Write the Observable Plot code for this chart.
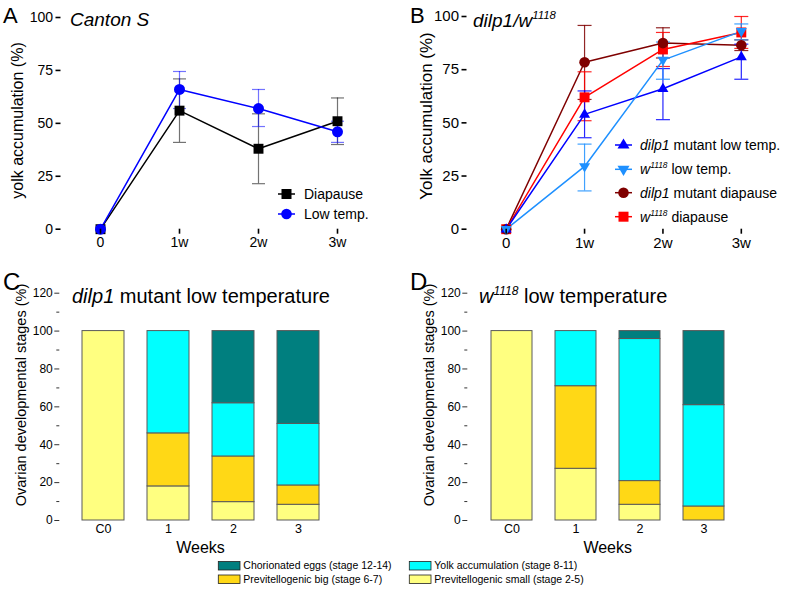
<!DOCTYPE html>
<html><head><meta charset="utf-8">
<script src="https://cdn.jsdelivr.net/npm/d3@7"></script>
<script src="https://cdn.jsdelivr.net/npm/@observablehq/plot@0.6"></script>
<style>
body{margin:0;background:#fff;}
#root{position:relative;width:787px;height:589px;overflow:hidden;background:#fff;font-family:"Liberation Sans",Arial,sans-serif;}
</style></head><body><div id="root"></div>
<script>
// ---------- DATA ----------
const weekIdx = [0, 1, 2, 3];
const weekLabels = ["0", "1w", "2w", "3w"];

// Panel A (Canton S)
const aSeries = ["Diapause", "Low temp."];
const aDiapauseMean = [0, 56, 38, 51];
const aDiapauseLow  = [0, 41, 21.5, 40];
const aDiapauseHigh = [0, 71, 54.5, 62];
const aLowTempMean  = [0, 66, 57, 46];
const aLowTempLow   = [0, 57, 48.5, 41];
const aLowTempHigh  = [0, 74.5, 66, 51];

// Panel B (dilp1 / w1118)
const bSeries = ["dilp1 mutant low temp.", "w1118 low temp.", "dilp1 mutant diapause", "w1118 diapause"];
const bDilpLowMean = [0, 54, 66, 81];
const bDilpLowLow  = [0, 43, 51.5, 70.5];
const bDilpLowHigh = [0, 65, 75.5, 87];
const bWLowMean    = [0, 29.5, 79.5, 93];
const bWLowLow     = [0, 18, 70.5, 89];
const bWLowHigh    = [0, 40, 88, 96.5];
const bDilpDiaMean = [0, 78.5, 87.5, 86.5];
const bDilpDiaLow  = [0, 61, 80.5, 84];
const bDilpDiaHigh = [0, 95.8, 94.7, 89];
const bWDiaMean    = [0, 62, 84.5, 92.5];
const bWDiaLow     = [0, 51, 76.5, 85];
const bWDiaHigh    = [0, 74, 92.5, 100];

// Panels C and D (stacked bars)
const barWeeks = ["C0", "1", "2", "3"];
const stages = ["Previtellogenic small (stage 2-5)", "Previtellogenic big (stage 6-7)", "Yolk accumulation (stage 8-11)", "Chorionated eggs (stage 12-14)"];
const stageColors = ["#ffff80", "#ffd816", "#00ffff", "#007f7f"];
const cSmall = [100, 18, 9.7, 8.3];
const cBig   = [0, 28, 24.1, 10.2];
const cYolk  = [0, 54, 28.1, 32.5];
const cChor  = [0, 0, 38.1, 49];
const dSmall = [100, 27.3, 8.3, 0];
const dBig   = [0, 43.6, 12.5, 7.4];
const dYolk  = [0, 29.1, 75, 53.5];
const dChor  = [0, 0, 4.2, 39.1];

// ---------- HELPERS ----------
const FONT = "Liberation Sans, Arial, sans-serif";
const root = document.getElementById("root");
function place(el, left, top) {
  el.style.position = "absolute"; el.style.left = left + "px"; el.style.top = top + "px";
  root.appendChild(el);
}
const capSymbol = {draw(ctx, size) { const r = Math.sqrt(size / Math.PI); ctx.moveTo(-r, 0); ctx.lineTo(r, 0); }};
const triUp = {draw(ctx, size) { const h = Math.sqrt(size / Math.PI); ctx.moveTo(-h, h * 0.6); ctx.lineTo(h, h * 0.6); ctx.lineTo(0, -h * 1.1); ctx.closePath(); }};
const triDown = {draw(ctx, size) { const h = Math.sqrt(size / Math.PI); ctx.moveTo(-h, -h * 0.6); ctx.lineTo(h, -h * 0.6); ctx.lineTo(0, h * 1.1); ctx.closePath(); }};

function rows(series, mean, lo, hi) {
  return weekIdx.map((w, i) => ({series, week: w, mean: mean[i], lo: lo[i], hi: hi[i]}));
}
function lineMarks(data, color, errOpacity, capR) {
  const err = data.filter(d => d.week > 0);
  return [
    Plot.ruleX(err, {x: "week", y1: "lo", y2: "hi", stroke: color, strokeWidth: 1.2, strokeOpacity: errOpacity}),
    Plot.dot(err, {x: "week", y: "lo", symbol: capSymbol, r: capR, stroke: color, fill: "none", strokeWidth: 1.2, strokeOpacity: errOpacity}),
    Plot.dot(err, {x: "week", y: "hi", symbol: capSymbol, r: capR, stroke: color, fill: "none", strokeWidth: 1.2, strokeOpacity: errOpacity}),
    Plot.line(data, {x: "week", y: "mean", stroke: color, strokeWidth: 1.5})
  ];
}
function dotMark(data, color, symbol, r) {
  return Plot.dot(data, {x: "week", y: "mean", symbol, r, fill: color, stroke: "none"});
}

// ---------- PANEL A ----------
const aDia = rows(aSeries[0], aDiapauseMean, aDiapauseLow, aDiapauseHigh);
const aLow = rows(aSeries[1], aLowTempMean, aLowTempLow, aLowTempHigh);
const plotA = Plot.plot({
  width: 390, height: 250,
  marginLeft: 60.5, marginRight: 13.5, marginTop: 17, marginBottom: 21.3,
  x: {domain: [-0.5, 3.5]},
  y: {domain: [0, 100]},
  style: {fontFamily: FONT, fontSize: "14px", color: "#000", background: "transparent", overflow: "visible"},
  marks: [
    ...lineMarks(aDia, "#000000", 0.55, 6.5),
    ...lineMarks(aLow, "#0000ff", 0.55, 6.5),
    dotMark(aDia, "#000000", "square", 5.6),
    dotMark(aLow, "#0000ff", "circle", 5.5),
    Plot.axisY({ticks: [0, 25, 50, 75, 100], tickSize: 5, tickPadding: 3, fontSize: 14, label: null, line: true, strokeWidth: 1.6}),
    Plot.axisX({ticks: weekIdx, tickFormat: d => weekLabels[d], tickSize: 5, tickPadding: 3, fontSize: 14, label: null, line: true, strokeWidth: 1.6})
  ]
});
place(plotA, 0, 0);

// ---------- PANEL B ----------
const bColors = ["#0000ff", "#1e90ff", "#7f0000", "#ff0000"];
const b1 = rows(bSeries[0], bDilpLowMean, bDilpLowLow, bDilpLowHigh);
const b2 = rows(bSeries[1], bWLowMean, bWLowLow, bWLowHigh);
const b3 = rows(bSeries[2], bDilpDiaMean, bDilpDiaLow, bDilpDiaHigh);
const b4 = rows(bSeries[3], bWDiaMean, bWDiaLow, bWDiaHigh);
const plotB = Plot.plot({
  width: 397, height: 250,
  marginLeft: 76.5, marginRight: 7, marginTop: 16, marginBottom: 21.3,
  x: {domain: [-0.5, 3.5]},
  y: {domain: [0, 100]},
  style: {fontFamily: FONT, fontSize: "15px", color: "#000", background: "transparent", overflow: "visible"},
  marks: [
    ...lineMarks(b3, bColors[2], 0.85, 7),
    ...lineMarks(b4, bColors[3], 0.85, 7),
    ...lineMarks(b1, bColors[0], 0.85, 7),
    ...lineMarks(b2, bColors[1], 0.85, 7),
    dotMark(b4, bColors[3], "square", 5.6),
    dotMark(b3, bColors[2], "circle", 5.3),
    dotMark(b1, bColors[0], triUp, 5.5),
    dotMark(b2, bColors[1], triDown, 5.5),
    Plot.axisY({ticks: [0, 25, 50, 75, 100], tickSize: 5, tickPadding: 3, fontSize: 15, label: null, line: true, strokeWidth: 1.6}),
    Plot.axisX({ticks: weekIdx, tickFormat: d => weekLabels[d], tickSize: 5, tickPadding: 3, fontSize: 15, label: null, line: true, strokeWidth: 1.6})
  ]
});
place(plotB, 390, 0);

// ---------- PANELS C & D ----------
function stackRows(small, big, yolk, chor) {
  const cols = [small, big, yolk, chor];
  const out = [];
  barWeeks.forEach((w, i) => stages.forEach((s, k) => { if (cols[k][i] > 0) out.push({week: w, stage: s, value: cols[k][i]}); }));
  return out;
}
function barPlot(data, width, marginLeft, marginRight) {
  return Plot.plot({
    width, height: 305,
    marginLeft, marginRight, marginTop: 42.7, marginBottom: 35,
    x: {type: "band", domain: barWeeks, paddingInner: 0.36, paddingOuter: 0.35},
    y: {domain: [0, 120]},
    color: {domain: stages, range: stageColors},
    style: {fontFamily: FONT, fontSize: "12px", color: "#000", background: "transparent", overflow: "visible"},
    marks: [
      Plot.barY(data, {x: "week", y: "value", fill: "stage", order: stages, stroke: "#5a5a5a", strokeWidth: 1}),
      Plot.axisY({ticks: d3.range(0, 121, 20), tickSize: 5, tickPadding: 2, fontSize: 12, label: null, line: true, stroke: "#333"}),
      Plot.axisY({ticks: d3.range(10, 120, 20), tickSize: 3, tickFormat: () => "", label: null, stroke: "#333"}),
      Plot.axisX({tickSize: 0, tickPadding: 4, fontSize: 12.5, label: null, line: true, stroke: "#333"})
    ]
  });
}
place(barPlot(stackRows(cSmall, cBig, cYolk, cChor), 390, 59.3, 48.3), 0, 250);
place(barPlot(stackRows(dSmall, dBig, dYolk, dChor), 397, 77.3, 39), 390, 250);

// ---------- OVERLAY: letters, titles, axis labels, legends ----------
const sup = (t, f) => `<tspan font-style="italic" font-size="${(0.6 * f).toFixed(1)}" baseline-shift="${(0.4 * f).toFixed(1)}">${t}</tspan>`;
function legendSym(x, y, color, kind) {
  let m;
  if (kind === "square") m = `<rect x="${x - 5}" y="${y - 5}" width="10" height="10" fill="${color}"/>`;
  else if (kind === "circle") m = `<circle cx="${x}" cy="${y}" r="5.3" fill="${color}"/>`;
  else if (kind === "up") m = `<path d="M${x - 6},${y + 3.6}L${x + 6},${y + 3.6}L${x},${y - 6.6}Z" fill="${color}"/>`;
  else m = `<path d="M${x - 6},${y - 3.6}L${x + 6},${y - 3.6}L${x},${y + 6.6}Z" fill="${color}"/>`;
  return `<line x1="${x - 8.5}" x2="${x + 8.5}" y1="${y}" y2="${y}" stroke="${color}" stroke-width="1.5"/>` + m;
}
const bLegY = [145, 169.3, 192.7, 216.7];
const bLegKinds = ["up", "down", "circle", "square"];
const bLegLabels = [
  `<tspan font-style="italic">dilp1</tspan> mutant low temp.`,
  `<tspan font-style="italic">w</tspan>${sup("1118", 14)} low temp.`,
  `<tspan font-style="italic">dilp1</tspan> mutant diapause`,
  `<tspan font-style="italic">w</tspan>${sup("1118", 14)} diapause`
];
const bottomLeg = [
  {x: 218.3, y: 561.5, stage: 3}, {x: 409.3, y: 561.5, stage: 2},
  {x: 218.3, y: 575, stage: 1}, {x: 409.3, y: 575, stage: 0}
];
let svg = `<svg xmlns="http://www.w3.org/2000/svg" width="787" height="589" font-family="${FONT}" fill="#000" style="position:absolute;left:0;top:0;pointer-events:none">`;
svg += `<text x="3" y="23" font-size="22">A</text>`;
svg += `<text x="410" y="23" font-size="22">B</text>`;
svg += `<text x="3" y="290" font-size="24">C</text>`;
svg += `<text x="410" y="290" font-size="24">D</text>`;
svg += `<text x="70" y="26" font-size="19" font-style="italic">Canton S</text>`;
svg += `<text x="473" y="27" font-size="19" font-style="italic">dilp1/w${sup("1118", 19)}</text>`;
svg += `<text x="72" y="303" font-size="20"><tspan font-style="italic">dilp1</tspan> mutant low temperature</text>`;
svg += `<text x="479" y="303" font-size="20"><tspan font-style="italic">w</tspan>${sup("1118", 20)} low temperature</text>`;
svg += `<text transform="translate(17.5,120.5) rotate(-90)" text-anchor="middle" dy="0.35em" font-size="16">yolk accumulation (%)</text>`;
svg += `<text transform="translate(426.5,116) rotate(-90)" text-anchor="middle" dy="0.35em" font-size="17">Yolk accumulation (%)</text>`;
svg += `<text transform="translate(21,395) rotate(-90)" text-anchor="middle" dy="0.35em" font-size="14.5">Ovarian developmental stages (%)</text>`;
svg += `<text transform="translate(429,395) rotate(-90)" text-anchor="middle" dy="0.35em" font-size="14.5">Ovarian developmental stages (%)</text>`;
svg += `<text x="200.5" y="547" text-anchor="middle" dy="0.35em" font-size="16">Weeks</text>`;
svg += `<text x="607.7" y="547" text-anchor="middle" dy="0.35em" font-size="16">Weeks</text>`;
// legend A
svg += legendSym(286.5, 194, "#000000", "square") + `<text x="304" y="194" dy="0.35em" font-size="14">${aSeries[0]}</text>`;
svg += legendSym(286.5, 214, "#0000ff", "circle") + `<text x="304" y="214" dy="0.35em" font-size="14">${aSeries[1]}</text>`;
// legend B
bLegY.forEach((y, i) => {
  svg += legendSym(623.5, y, bColors[i], bLegKinds[i]) + `<text x="640" y="${y}" dy="0.35em" font-size="14">${bLegLabels[i]}</text>`;
});
// bottom legend
bottomLeg.forEach(d => {
  svg += `<rect x="${d.x}" y="${d.y}" width="21.7" height="8.5" fill="${stageColors[d.stage]}" stroke="#222" stroke-width="0.8"/>`;
  svg += `<text x="${d.x + 25}" y="${d.y + 4.25}" dy="0.35em" font-size="10.5">${stages[d.stage]}</text>`;
});
svg += `</svg>`;
const holder = document.createElement("div");
holder.innerHTML = svg;
place(holder.firstChild, 0, 0);
</script></body></html>
